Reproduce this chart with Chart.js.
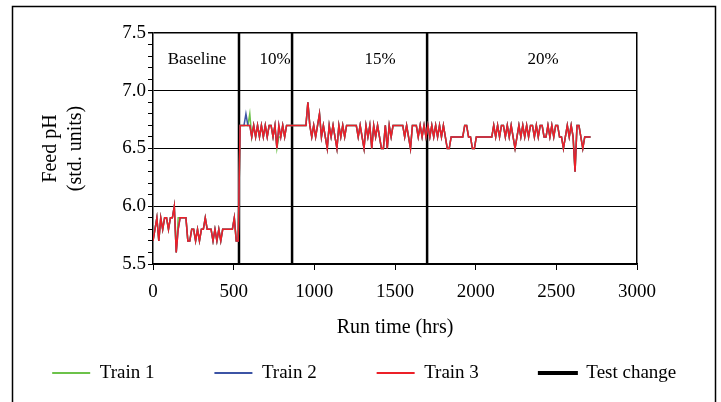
<!DOCTYPE html>
<html>
<head>
<meta charset="utf-8">
<script src="https://cdn.jsdelivr.net/npm/chart.js@4.4.0/dist/chart.umd.min.js"></script>
<style>
  body { margin: 0; background: #fff; }
</style>
</head>
<body>
<canvas id="phChart" width="721" height="402"></canvas>
<script>
// ---------------- Data ----------------
var hours = [
  0, 12, 24, 36, 48, 60, 72, 84, 96, 108, 120, 132, 144, 156, 168,
  180, 192, 204, 216, 228, 240, 252, 264, 276, 288, 300, 312, 324, 336, 348,
  360, 372, 384, 396, 408, 420, 432, 444, 456, 468, 480, 492, 504, 516, 528,
  540, 552, 564, 576, 588, 600, 612, 624, 636, 648, 660, 672, 684, 696, 708,
  720, 732, 744, 756, 768, 780, 792, 804, 816, 828, 840, 852, 864, 876, 888,
  900, 912, 924, 936, 948, 960, 972, 984, 996, 1008, 1020, 1032, 1044, 1056, 1068,
  1080, 1092, 1104, 1116, 1128, 1140, 1152, 1164, 1176, 1188, 1200, 1212, 1224, 1236, 1248,
  1260, 1272, 1284, 1296, 1308, 1320, 1332, 1344, 1356, 1368, 1380, 1392, 1404, 1416, 1428,
  1440, 1452, 1464, 1476, 1488, 1500, 1512, 1524, 1536, 1548, 1560, 1572, 1584, 1596, 1608,
  1620, 1632, 1644, 1656, 1668, 1680, 1692, 1704, 1716, 1728, 1740, 1752, 1764, 1776, 1788,
  1800, 1812, 1824, 1836, 1848, 1860, 1872, 1884, 1896, 1908, 1920, 1932, 1944, 1956, 1968,
  1980, 1992, 2004, 2016, 2028, 2040, 2052, 2064, 2076, 2088, 2100, 2112, 2124, 2136, 2148,
  2160, 2172, 2184, 2196, 2208, 2220, 2232, 2244, 2256, 2268, 2280, 2292, 2304, 2316, 2328,
  2340, 2352, 2364, 2376, 2388, 2400, 2412, 2424, 2436, 2448, 2460, 2472, 2484, 2496, 2508,
  2520, 2532, 2544, 2556, 2568, 2580, 2592, 2604, 2616, 2628, 2640, 2652, 2664, 2676, 2688,
  2700, 2712
];

var train1 = [
  5.7, 5.8, 5.9, 5.7, 5.9, 5.8, 5.9, 5.9, 5.8, 5.9, 5.9, 6.0, 5.6, 5.9, 5.9,
  5.9, 5.9, 5.9, 5.7, 5.7, 5.8, 5.8, 5.7, 5.8, 5.7, 5.8, 5.8, 5.9, 5.8, 5.8,
  5.8, 5.7, 5.8, 5.7, 5.8, 5.7, 5.8, 5.8, 5.8, 5.8, 5.8, 5.8, 5.9, 5.7, 5.7,
  6.7, 6.7, 6.7, 6.7, 6.7, 6.8, 6.6, 6.7, 6.6, 6.7, 6.6, 6.7, 6.6, 6.7, 6.6,
  6.7, 6.7, 6.6, 6.7, 6.5, 6.6, 6.6, 6.7, 6.6, 6.7, 6.7, 6.7, 6.7, 6.7, 6.7,
  6.7, 6.7, 6.7, 6.7, 6.7, 6.9, 6.7, 6.6, 6.7, 6.6, 6.7, 6.8, 6.6, 6.7, 6.6,
  6.5, 6.7, 6.6, 6.7, 6.6, 6.5, 6.7, 6.6, 6.7, 6.6, 6.7, 6.7, 6.7, 6.7, 6.7,
  6.7, 6.6, 6.7, 6.6, 6.5, 6.7, 6.6, 6.7, 6.5, 6.7, 6.6, 6.7, 6.6, 6.5, 6.5,
  6.7, 6.5, 6.7, 6.6, 6.7, 6.7, 6.7, 6.7, 6.7, 6.7, 6.6, 6.7, 6.6, 6.5, 6.7,
  6.7, 6.7, 6.6, 6.7, 6.6, 6.7, 6.6, 6.7, 6.6, 6.7, 6.6, 6.7, 6.6, 6.7, 6.6,
  6.7, 6.6, 6.5, 6.5, 6.6, 6.6, 6.6, 6.6, 6.6, 6.6, 6.6, 6.7, 6.7, 6.6, 6.6,
  6.5, 6.5, 6.6, 6.6, 6.6, 6.6, 6.6, 6.6, 6.6, 6.6, 6.6, 6.7, 6.6, 6.7, 6.6,
  6.7, 6.7, 6.6, 6.7, 6.6, 6.7, 6.6, 6.5, 6.6, 6.7, 6.6, 6.7, 6.6, 6.7, 6.6,
  6.7, 6.7, 6.6, 6.7, 6.6, 6.7, 6.7, 6.6, 6.6, 6.7, 6.6, 6.7, 6.6, 6.7, 6.7,
  6.6, 6.6, 6.5, 6.6, 6.7, 6.6, 6.7, 6.6, 6.3, 6.7, 6.7, 6.6, 6.5, 6.6, 6.6,
  6.6, 6.6
];

var train2 = [
  5.7, 5.8, 5.9, 5.7, 5.9, 5.8, 5.9, 5.9, 5.8, 5.9, 5.9, 6.0, 5.6, 5.8, 5.9,
  5.9, 5.9, 5.9, 5.7, 5.7, 5.8, 5.8, 5.7, 5.8, 5.7, 5.8, 5.8, 5.9, 5.8, 5.8,
  5.8, 5.7, 5.8, 5.7, 5.8, 5.7, 5.8, 5.8, 5.8, 5.8, 5.8, 5.8, 5.9, 5.7, 5.7,
  6.7, 6.7, 6.7, 6.8, 6.7, 6.7, 6.6, 6.7, 6.6, 6.7, 6.6, 6.7, 6.6, 6.7, 6.6,
  6.7, 6.7, 6.6, 6.7, 6.5, 6.7, 6.6, 6.7, 6.6, 6.7, 6.7, 6.7, 6.7, 6.7, 6.7,
  6.7, 6.7, 6.7, 6.7, 6.7, 6.9, 6.7, 6.6, 6.7, 6.6, 6.7, 6.8, 6.6, 6.7, 6.6,
  6.5, 6.7, 6.6, 6.7, 6.6, 6.5, 6.7, 6.6, 6.7, 6.6, 6.7, 6.7, 6.7, 6.7, 6.7,
  6.7, 6.6, 6.7, 6.6, 6.5, 6.7, 6.6, 6.7, 6.5, 6.7, 6.6, 6.7, 6.6, 6.5, 6.5,
  6.7, 6.5, 6.7, 6.6, 6.7, 6.7, 6.7, 6.7, 6.7, 6.7, 6.6, 6.7, 6.6, 6.5, 6.7,
  6.7, 6.7, 6.6, 6.7, 6.6, 6.7, 6.6, 6.7, 6.6, 6.7, 6.6, 6.7, 6.6, 6.7, 6.6,
  6.7, 6.6, 6.5, 6.5, 6.6, 6.6, 6.6, 6.6, 6.6, 6.6, 6.6, 6.7, 6.7, 6.6, 6.6,
  6.5, 6.5, 6.6, 6.6, 6.6, 6.6, 6.6, 6.6, 6.6, 6.6, 6.6, 6.7, 6.6, 6.7, 6.6,
  6.7, 6.7, 6.6, 6.7, 6.6, 6.7, 6.6, 6.5, 6.6, 6.7, 6.6, 6.7, 6.6, 6.7, 6.6,
  6.7, 6.7, 6.6, 6.7, 6.6, 6.7, 6.7, 6.6, 6.6, 6.7, 6.6, 6.7, 6.6, 6.7, 6.7,
  6.6, 6.6, 6.5, 6.6, 6.7, 6.6, 6.7, 6.6, 6.3, 6.7, 6.7, 6.6, 6.5, 6.6, 6.6,
  6.6, 6.6
];

var train3 = [
  5.7, 5.8, 5.9, 5.7, 5.9, 5.8, 5.9, 5.9, 5.8, 5.9, 5.9, 6.0, 5.6, 5.8, 5.9,
  5.9, 5.9, 5.9, 5.7, 5.7, 5.8, 5.8, 5.7, 5.8, 5.7, 5.8, 5.8, 5.9, 5.8, 5.8,
  5.8, 5.7, 5.8, 5.7, 5.8, 5.7, 5.8, 5.8, 5.8, 5.8, 5.8, 5.8, 5.9, 5.7, 5.7,
  6.7, 6.7, 6.7, 6.7, 6.7, 6.7, 6.6, 6.7, 6.6, 6.7, 6.6, 6.7, 6.6, 6.7, 6.6,
  6.7, 6.7, 6.6, 6.7, 6.5, 6.7, 6.6, 6.7, 6.6, 6.7, 6.7, 6.7, 6.7, 6.7, 6.7,
  6.7, 6.7, 6.7, 6.7, 6.7, 6.9, 6.7, 6.6, 6.7, 6.6, 6.7, 6.8, 6.6, 6.7, 6.6,
  6.5, 6.7, 6.6, 6.7, 6.6, 6.5, 6.7, 6.6, 6.7, 6.6, 6.7, 6.7, 6.7, 6.7, 6.7,
  6.7, 6.6, 6.7, 6.6, 6.5, 6.7, 6.6, 6.7, 6.5, 6.7, 6.6, 6.7, 6.6, 6.5, 6.5,
  6.7, 6.5, 6.7, 6.6, 6.7, 6.7, 6.7, 6.7, 6.7, 6.7, 6.6, 6.7, 6.6, 6.5, 6.7,
  6.7, 6.7, 6.6, 6.7, 6.6, 6.7, 6.6, 6.7, 6.6, 6.7, 6.6, 6.7, 6.6, 6.7, 6.6,
  6.7, 6.6, 6.5, 6.5, 6.6, 6.6, 6.6, 6.6, 6.6, 6.6, 6.6, 6.7, 6.7, 6.6, 6.6,
  6.5, 6.5, 6.6, 6.6, 6.6, 6.6, 6.6, 6.6, 6.6, 6.6, 6.6, 6.7, 6.6, 6.7, 6.6,
  6.7, 6.7, 6.6, 6.7, 6.6, 6.7, 6.6, 6.5, 6.6, 6.7, 6.6, 6.7, 6.6, 6.7, 6.6,
  6.7, 6.7, 6.6, 6.7, 6.6, 6.7, 6.7, 6.6, 6.6, 6.7, 6.6, 6.7, 6.6, 6.7, 6.7,
  6.6, 6.6, 6.5, 6.6, 6.7, 6.6, 6.7, 6.6, 6.3, 6.7, 6.7, 6.6, 6.5, 6.6, 6.6,
  6.6, 6.6
];

// hours at which the test condition changed
var testChangeHours = [533, 862, 1699];

// section captions and where they sit (hours, pH)
var sectionNames = ['Baseline', '10%', '15%', '20%'];
var sectionHours = [273, 756, 1407, 2418];
var sectionLabelPH = 7.27;

var phMin = 5.5, phMax = 7.5;
var hourMin = 0, hourMax = 3000, hourStep = 500;

// ---------------- helpers ----------------
function toPoints(values) {
  return hours.map(function (h, i) { return { x: h, y: values[i] }; });
}

var testChangePoints = [];
testChangeHours.forEach(function (h) {
  testChangePoints.push({ x: h, y: phMin }, { x: h, y: phMax }, { x: h, y: null });
});

function isMajor(v) {
  return Math.round(v * 10) % 5 === 0;
}

Chart.defaults.font.family = "'Liberation Serif', 'Times New Roman', serif";
Chart.defaults.color = '#000';

// outer frame of the figure
var framePlugin = {
  id: 'frame',
  beforeDraw: function (chart) {
    var ctx = chart.ctx;
    ctx.save();
    ctx.fillStyle = '#fff';
    ctx.fillRect(0, 0, chart.width, chart.height);
    ctx.strokeStyle = '#000';
    ctx.lineWidth = 1.5;
    ctx.strokeRect(12.5, 6.5, 703, 430);
    ctx.restore();
  }
};

// captions Baseline / 10% / 15% / 20%
var sectionPlugin = {
  id: 'sections',
  afterDatasetsDraw: function (chart) {
    var ctx = chart.ctx;
    var xs = chart.scales.x, ys = chart.scales.y;
    ctx.save();
    ctx.font = "17px 'Liberation Serif', 'Times New Roman', serif";
    ctx.fillStyle = '#000';
    ctx.textAlign = 'center';
    ctx.textBaseline = 'middle';
    sectionNames.forEach(function (name, i) {
      ctx.fillText(name, xs.getPixelForValue(sectionHours[i]), ys.getPixelForValue(sectionLabelPH));
    });
    ctx.restore();
  }
};

var ctx = document.getElementById('phChart').getContext('2d');
var phChart = new Chart(ctx, {
  type: 'line',
  data: {
    datasets: [{
      label: 'Train 1',
      data: toPoints(train1),
      borderColor: '#6cc24a',
      backgroundColor: '#6cc24a',
      borderWidth: 1.5,
      pointRadius: 0,
      order: 2
    }, {
      label: 'Train 2',
      data: toPoints(train2),
      borderColor: '#3c54a5',
      backgroundColor: '#3c54a5',
      borderWidth: 1.5,
      pointRadius: 0,
      order: 1
    }, {
      label: 'Train 3',
      data: toPoints(train3),
      borderColor: '#ec2028',
      backgroundColor: '#ec2028',
      borderWidth: 1.5,
      pointRadius: 0,
      order: 0
    }, {
      label: 'Test change',
      data: testChangePoints,
      borderColor: '#000',
      backgroundColor: '#000',
      borderWidth: 2.5,
      pointRadius: 0,
      spanGaps: false,
      order: 3
    }]
  },
  options: {
    responsive: false,
    animation: false,
    // negative side padding widens the legend row so all four items fit on one line
    layout: { padding: { left: -22.5, right: -30, top: 33, bottom: 9.5 } },
    scales: {
      x: {
        type: 'linear',
        min: hourMin,
        max: hourMax,
        ticks: {
          stepSize: hourStep,
          font: { size: 19 },
          padding: 11,
          maxRotation: 0,
          callback: function (v) { return String(v); }
        },
        grid: { drawOnChartArea: false, tickLength: 6, tickColor: '#000' },
        border: { color: '#000', width: 1.5 },
        title: {
          display: true,
          text: 'Run time (hrs)',
          font: { size: 20 },
          padding: { top: 0, bottom: -36.5 }
        },
        afterFit: function (s) { s.height = 39.5; }
      },
      y: {
        min: phMin,
        max: phMax,
        ticks: {
          stepSize: 0.1,
          autoSkip: false,
          font: { size: 19 },
          padding: 2,
          callback: function (v) { return isMajor(v) ? (Math.round(v * 10) / 10).toFixed(1) : ''; }
        },
        grid: {
          color: function (c) { return c.tick && isMajor(c.tick.value) ? '#000' : 'rgba(0,0,0,0)'; },
          lineWidth: function (c) { return c.tick && Math.abs(c.tick.value - phMax) < 0.01 ? 1.5 : 1; },
          tickColor: '#000',
          tickLength: 5
        },
        border: { color: '#000', width: 1.5 },
        title: {
          display: true,
          text: ['Feed pH', '(std. units)'],
          font: { size: 20, lineHeight: 1.25 },
          padding: { top: 61, bottom: 0 }
        },
        afterFit: function (s) { s.width = 175.5; }
      },
      yRight: {
        position: 'right',
        ticks: { display: false },
        grid: { display: false },
        border: { display: true, color: '#000', width: 1.5 },
        afterFit: function (s) { s.width = 114; }
      }
    },
    plugins: {
      legend: {
        position: 'bottom',
        labels: {
          font: { size: 19 },
          color: '#000',
          boxWidth: 38,
          boxHeight: 2,
          padding: 60,
          generateLabels: function (chart) {
            return chart.data.datasets.map(function (ds, i) {
              return {
                text: ds.label,
                fillStyle: ds.borderColor,
                strokeStyle: ds.borderColor,
                lineWidth: ds.label === 'Test change' ? 2 : 0,
                hidden: false,
                datasetIndex: i
              };
            });
          }
        }
      },
      tooltip: { enabled: false }
    }
  },
  plugins: [framePlugin, sectionPlugin]
});
</script>
</body>
</html>
